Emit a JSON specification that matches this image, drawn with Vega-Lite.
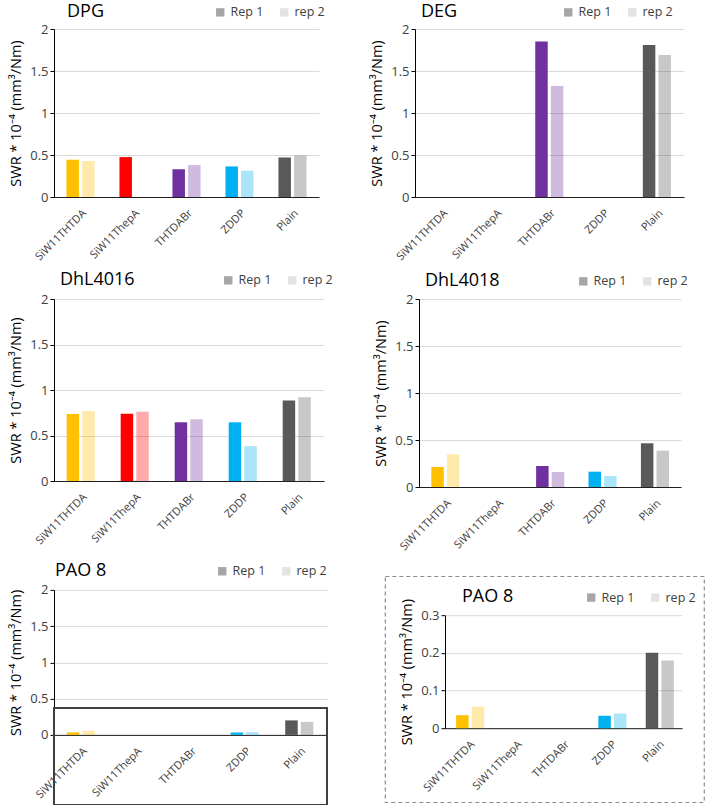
{
  "$schema": "https://vega.github.io/schema/vega-lite/v6.json",
  "background": "white",
  "padding": {"left": 8, "top": 6, "right": 2, "bottom": 1},
  "datasets": {
    "swr": [
      {"panel": "DPG", "Additive": "SiW11THTDA", "Rep": "Rep 1", "SWR": 0.444},
      {"panel": "DPG", "Additive": "SiW11THTDA", "Rep": "rep 2", "SWR": 0.43},
      {"panel": "DPG", "Additive": "SiW11ThepA", "Rep": "Rep 1", "SWR": 0.475},
      {"panel": "DPG", "Additive": "THTDABr", "Rep": "Rep 1", "SWR": 0.33},
      {"panel": "DPG", "Additive": "THTDABr", "Rep": "rep 2", "SWR": 0.38},
      {"panel": "DPG", "Additive": "ZDDP", "Rep": "Rep 1", "SWR": 0.364},
      {"panel": "DPG", "Additive": "ZDDP", "Rep": "rep 2", "SWR": 0.313},
      {"panel": "DPG", "Additive": "Plain", "Rep": "Rep 1", "SWR": 0.471},
      {"panel": "DPG", "Additive": "Plain", "Rep": "rep 2", "SWR": 0.495},
      {"panel": "DEG", "Additive": "THTDABr", "Rep": "Rep 1", "SWR": 1.85},
      {"panel": "DEG", "Additive": "THTDABr", "Rep": "rep 2", "SWR": 1.32},
      {"panel": "DEG", "Additive": "Plain", "Rep": "Rep 1", "SWR": 1.81},
      {"panel": "DEG", "Additive": "Plain", "Rep": "rep 2", "SWR": 1.69},
      {"panel": "DhL4016", "Additive": "SiW11THTDA", "Rep": "Rep 1", "SWR": 0.737},
      {"panel": "DhL4016", "Additive": "SiW11THTDA", "Rep": "rep 2", "SWR": 0.77},
      {"panel": "DhL4016", "Additive": "SiW11ThepA", "Rep": "Rep 1", "SWR": 0.74},
      {"panel": "DhL4016", "Additive": "SiW11ThepA", "Rep": "rep 2", "SWR": 0.76},
      {"panel": "DhL4016", "Additive": "THTDABr", "Rep": "Rep 1", "SWR": 0.645},
      {"panel": "DhL4016", "Additive": "THTDABr", "Rep": "rep 2", "SWR": 0.678},
      {"panel": "DhL4016", "Additive": "ZDDP", "Rep": "Rep 1", "SWR": 0.645},
      {"panel": "DhL4016", "Additive": "ZDDP", "Rep": "rep 2", "SWR": 0.383},
      {"panel": "DhL4016", "Additive": "Plain", "Rep": "Rep 1", "SWR": 0.884},
      {"panel": "DhL4016", "Additive": "Plain", "Rep": "rep 2", "SWR": 0.921},
      {"panel": "DhL4018", "Additive": "SiW11THTDA", "Rep": "Rep 1", "SWR": 0.213},
      {"panel": "DhL4018", "Additive": "SiW11THTDA", "Rep": "rep 2", "SWR": 0.348},
      {"panel": "DhL4018", "Additive": "THTDABr", "Rep": "Rep 1", "SWR": 0.224},
      {"panel": "DhL4018", "Additive": "THTDABr", "Rep": "rep 2", "SWR": 0.16},
      {"panel": "DhL4018", "Additive": "ZDDP", "Rep": "Rep 1", "SWR": 0.163},
      {"panel": "DhL4018", "Additive": "ZDDP", "Rep": "rep 2", "SWR": 0.117},
      {"panel": "DhL4018", "Additive": "Plain", "Rep": "Rep 1", "SWR": 0.465},
      {"panel": "DhL4018", "Additive": "Plain", "Rep": "rep 2", "SWR": 0.387},
      {"panel": "PAO 8", "Additive": "SiW11THTDA", "Rep": "Rep 1", "SWR": 0.0345},
      {"panel": "PAO 8", "Additive": "SiW11THTDA", "Rep": "rep 2", "SWR": 0.0575},
      {"panel": "PAO 8", "Additive": "ZDDP", "Rep": "Rep 1", "SWR": 0.033},
      {"panel": "PAO 8", "Additive": "ZDDP", "Rep": "rep 2", "SWR": 0.039},
      {"panel": "PAO 8", "Additive": "Plain", "Rep": "Rep 1", "SWR": 0.2},
      {"panel": "PAO 8", "Additive": "Plain", "Rep": "rep 2", "SWR": 0.18}
    ]
  },
  "spacing": 12,
  "resolve": {"scale": {"fill": "independent"}, "legend": {"fill": "independent"}},
  "vconcat": [
    {
      "spacing": 44,
      "resolve": {"scale": {"fill": "independent"}, "legend": {"fill": "independent"}},
      "hconcat": [
        {
          "width": 265, "height": 168,
          "data": {"name": "swr"},
          "transform": [{"filter": "datum.panel === 'DPG'"}],
          "layer": [
            {
              "mark": {"type": "bar"},
              "encoding": {
                "x": {"field": "Additive", "type": "nominal", "scale": {"domain": ["SiW11THTDA", "SiW11ThepA", "THTDABr", "ZDDP", "Plain"], "paddingInner": 0.47, "paddingOuter": 0.235}, "axis": {"title": null, "labelAngle": -45}},
                "xOffset": {"field": "Rep", "type": "nominal", "scale": {"domain": ["Rep 1", "rep 2"], "paddingInner": 0.2}},
                "y": {"field": "SWR", "type": "quantitative", "scale": {"domain": [0, 2]}, "axis": {"title": "SWR * 10⁻⁴ (mm³/Nm)", "values": [0, 0.5, 1, 1.5, 2], "format": "~g"}},
                "color": {"field": "Additive", "type": "nominal", "scale": {"domain": ["SiW11THTDA", "SiW11ThepA", "THTDABr", "ZDDP", "Plain"], "range": ["#FFC000", "#FF0000", "#7030A0", "#00B0F0", "#595959"]}, "legend": null},
                "opacity": {"field": "Rep", "type": "nominal", "scale": {"domain": ["Rep 1", "rep 2"], "range": [1, 0.33]}, "legend": null}
              }
            },
            {
              "mark": {"type": "square", "opacity": 0},
              "encoding": {
                "fill": {"field": "Rep", "type": "nominal", "scale": {"domain": ["Rep 1", "rep 2"], "range": ["#A6A6A6", "#E3E3E3"]}, "legend": {"orient": "none", "legendX": 13, "legendY": -23, "direction": "horizontal", "title": "DPG", "titlePadding": 110, "symbolOpacity": 1}}
              }
            }
          ]
        },
        {
          "width": 269, "height": 168,
          "data": {"name": "swr"},
          "transform": [{"filter": "datum.panel === 'DEG'"}],
          "layer": [
            {
              "mark": {"type": "bar"},
              "encoding": {
                "x": {"field": "Additive", "type": "nominal", "scale": {"domain": ["SiW11THTDA", "SiW11ThepA", "THTDABr", "ZDDP", "Plain"], "paddingInner": 0.47, "paddingOuter": 0.235}, "axis": {"title": null, "labelAngle": -45}},
                "xOffset": {"field": "Rep", "type": "nominal", "scale": {"domain": ["Rep 1", "rep 2"], "paddingInner": 0.2}},
                "y": {"field": "SWR", "type": "quantitative", "scale": {"domain": [0, 2]}, "axis": {"title": "SWR * 10⁻⁴ (mm³/Nm)", "values": [0, 0.5, 1, 1.5, 2], "format": "~g"}},
                "color": {"field": "Additive", "type": "nominal", "scale": {"domain": ["SiW11THTDA", "SiW11ThepA", "THTDABr", "ZDDP", "Plain"], "range": ["#FFC000", "#FF0000", "#7030A0", "#00B0F0", "#595959"]}, "legend": null},
                "opacity": {"field": "Rep", "type": "nominal", "scale": {"domain": ["Rep 1", "rep 2"], "range": [1, 0.33]}, "legend": null}
              }
            },
            {
              "mark": {"type": "square", "opacity": 0},
              "encoding": {
                "fill": {"field": "Rep", "type": "nominal", "scale": {"domain": ["Rep 1", "rep 2"], "range": ["#A6A6A6", "#E3E3E3"]}, "legend": {"orient": "none", "legendX": 6, "legendY": -23, "direction": "horizontal", "title": "DEG", "titlePadding": 104, "symbolOpacity": 1}}
              }
            }
          ]
        }
      ]
    },
    {
      "spacing": 40,
      "resolve": {"scale": {"fill": "independent"}, "legend": {"fill": "independent"}},
      "hconcat": [
        {
          "width": 270, "height": 182,
          "data": {"name": "swr"},
          "transform": [{"filter": "datum.panel === 'DhL4016'"}],
          "layer": [
            {
              "mark": {"type": "bar"},
              "encoding": {
                "x": {"field": "Additive", "type": "nominal", "scale": {"domain": ["SiW11THTDA", "SiW11ThepA", "THTDABr", "ZDDP", "Plain"], "paddingInner": 0.47, "paddingOuter": 0.235}, "axis": {"title": null, "labelAngle": -45}},
                "xOffset": {"field": "Rep", "type": "nominal", "scale": {"domain": ["Rep 1", "rep 2"], "paddingInner": 0.2}},
                "y": {"field": "SWR", "type": "quantitative", "scale": {"domain": [0, 2]}, "axis": {"title": "SWR * 10⁻⁴ (mm³/Nm)", "values": [0, 0.5, 1, 1.5, 2], "format": "~g"}},
                "color": {"field": "Additive", "type": "nominal", "scale": {"domain": ["SiW11THTDA", "SiW11ThepA", "THTDABr", "ZDDP", "Plain"], "range": ["#FFC000", "#FF0000", "#7030A0", "#00B0F0", "#595959"]}, "legend": null},
                "opacity": {"field": "Rep", "type": "nominal", "scale": {"domain": ["Rep 1", "rep 2"], "range": [1, 0.33]}, "legend": null}
              }
            },
            {
              "mark": {"type": "square", "opacity": 0},
              "encoding": {
                "fill": {"field": "Rep", "type": "nominal", "scale": {"domain": ["Rep 1", "rep 2"], "range": ["#A6A6A6", "#E3E3E3"]}, "legend": {"orient": "none", "legendX": 6, "legendY": -25, "direction": "horizontal", "title": "DhL4016", "titlePadding": 87, "symbolOpacity": 1}}
              }
            }
          ]
        },
        {
          "width": 262, "height": 188,
          "data": {"name": "swr"},
          "transform": [{"filter": "datum.panel === 'DhL4018'"}],
          "layer": [
            {
              "mark": {"type": "bar"},
              "encoding": {
                "x": {"field": "Additive", "type": "nominal", "scale": {"domain": ["SiW11THTDA", "SiW11ThepA", "THTDABr", "ZDDP", "Plain"], "paddingInner": 0.47, "paddingOuter": 0.235}, "axis": {"title": null, "labelAngle": -45}},
                "xOffset": {"field": "Rep", "type": "nominal", "scale": {"domain": ["Rep 1", "rep 2"], "paddingInner": 0.2}},
                "y": {"field": "SWR", "type": "quantitative", "scale": {"domain": [0, 2]}, "axis": {"title": "SWR * 10⁻⁴ (mm³/Nm)", "values": [0, 0.5, 1, 1.5, 2], "format": "~g"}},
                "color": {"field": "Additive", "type": "nominal", "scale": {"domain": ["SiW11THTDA", "SiW11ThepA", "THTDABr", "ZDDP", "Plain"], "range": ["#FFC000", "#FF0000", "#7030A0", "#00B0F0", "#595959"]}, "legend": null},
                "opacity": {"field": "Rep", "type": "nominal", "scale": {"domain": ["Rep 1", "rep 2"], "range": [1, 0.33]}, "legend": null}
              }
            },
            {
              "mark": {"type": "square", "opacity": 0},
              "encoding": {
                "fill": {"field": "Rep", "type": "nominal", "scale": {"domain": ["Rep 1", "rep 2"], "range": ["#A6A6A6", "#E3E3E3"]}, "legend": {"orient": "none", "legendX": 6, "legendY": -24, "direction": "horizontal", "title": "DhL4018", "titlePadding": 77, "symbolOpacity": 1}}
              }
            }
          ]
        }
      ]
    },
    {
      "center": true,
      "spacing": 56,
      "resolve": {"scale": {"fill": "independent"}, "legend": {"fill": "independent"}},
      "hconcat": [
        {
          "width": 273, "height": 145,
          "data": {"name": "swr"},
          "transform": [{"filter": "datum.panel === 'PAO 8'"}],
          "layer": [
            {
              "mark": {"type": "bar"},
              "encoding": {
                "x": {"field": "Additive", "type": "nominal", "scale": {"domain": ["SiW11THTDA", "SiW11ThepA", "THTDABr", "ZDDP", "Plain"], "paddingInner": 0.47, "paddingOuter": 0.235}, "axis": {"title": null, "labelAngle": -45}},
                "xOffset": {"field": "Rep", "type": "nominal", "scale": {"domain": ["Rep 1", "rep 2"], "paddingInner": 0.2}},
                "y": {"field": "SWR", "type": "quantitative", "scale": {"domain": [0, 2]}, "axis": {"title": "SWR * 10⁻⁴ (mm³/Nm)", "values": [0, 0.5, 1, 1.5, 2], "format": "~g"}},
                "color": {"field": "Additive", "type": "nominal", "scale": {"domain": ["SiW11THTDA", "SiW11ThepA", "THTDABr", "ZDDP", "Plain"], "range": ["#FFC000", "#FF0000", "#7030A0", "#00B0F0", "#595959"]}, "legend": null},
                "opacity": {"field": "Rep", "type": "nominal", "scale": {"domain": ["Rep 1", "rep 2"], "range": [1, 0.33]}, "legend": null}
              }
            },
            {
              "mark": {"type": "rect", "filled": false, "stroke": "#404040", "strokeWidth": 1.2},
              "encoding": {
                "y": {"datum": 0.37, "type": "quantitative", "scale": {"domain": [0, 2]}, "axis": {"title": "SWR * 10⁻⁴ (mm³/Nm)", "values": [0, 0.5, 1, 1.5, 2], "format": "~g"}},
                "y2": {"datum": -0.96}
              }
            },
            {
              "mark": {"type": "square", "opacity": 0},
              "encoding": {
                "fill": {"field": "Rep", "type": "nominal", "scale": {"domain": ["Rep 1", "rep 2"], "range": ["#A6A6A6", "#E3E3E3"]}, "legend": {"orient": "none", "legendX": 1, "legendY": -25, "direction": "horizontal", "title": "PAO 8", "titlePadding": 109, "symbolOpacity": 1}}
              }
            }
          ]
        },
        {
          "width": 319, "height": 226,
          "title": {"text": " ", "orient": "bottom", "fontSize": 10, "offset": 6},
          "view": {"stroke": "#8C8C8C", "strokeDash": [4, 3], "strokeWidth": 1.2},
          "data": {"name": "swr"},
          "transform": [{"filter": "datum.panel === 'PAO 8'"}],
          "layer": [
            {
              "mark": {"type": "bar"},
              "encoding": {
                "x": {"field": "Additive", "type": "nominal", "scale": {"domain": ["SiW11THTDA", "SiW11ThepA", "THTDABr", "ZDDP", "Plain"], "range": [60, 297], "paddingInner": 0.47, "paddingOuter": 0.235}, "axis": {"title": null, "labelAngle": -45, "offset": -74}},
                "xOffset": {"field": "Rep", "type": "nominal", "scale": {"domain": ["Rep 1", "rep 2"], "paddingInner": 0.2}},
                "y": {"field": "SWR", "type": "quantitative", "scale": {"domain": [0, 0.3], "range": [152, 39]}, "axis": {"title": "SWR * 10⁻⁴ (mm³/Nm)", "values": [0, 0.1, 0.2, 0.3], "format": "~g", "offset": -60}},
                "color": {"field": "Additive", "type": "nominal", "scale": {"domain": ["SiW11THTDA", "SiW11ThepA", "THTDABr", "ZDDP", "Plain"], "range": ["#FFC000", "#FF0000", "#7030A0", "#00B0F0", "#595959"]}, "legend": null},
                "opacity": {"field": "Rep", "type": "nominal", "scale": {"domain": ["Rep 1", "rep 2"], "range": [1, 0.33]}, "legend": null}
              }
            },
            {
              "mark": {"type": "square", "opacity": 0},
              "encoding": {
                "fill": {"field": "Rep", "type": "nominal", "scale": {"domain": ["Rep 1", "rep 2"], "range": ["#A6A6A6", "#E3E3E3"]}, "legend": {"orient": "none", "legendX": 77, "legendY": 15, "direction": "horizontal", "title": "PAO 8", "titlePadding": 71, "symbolOpacity": 1}}
              }
            }
          ]
        }
      ]
    }
  ],
  "config": {
    "font": "Open Sans",
    "view": {"stroke": null},
    "axis": {"labelColor": "#404040", "labelFontSize": 13, "domainColor": "#000000", "tickColor": "#000000", "gridColor": "#D9D9D9", "titleFontWeight": "normal", "titleFontSize": 14.5, "titleColor": "#000000", "titlePadding": 6},
    "axisX": {"grid": false, "ticks": false, "labelFontSize": 11, "labelPadding": 10, "domainColor": "#202020"},
    "axisY": {"tickSize": 4},
    "legend": {"labelFontSize": 12.5, "symbolType": "square", "symbolSize": 70, "symbolStrokeWidth": 0, "columnPadding": 14, "labelColor": "#404040", "titleOrient": "left", "titleFontSize": 18, "titleFontWeight": "normal", "titleColor": "#000000", "titleLimit": 200}
  }
}
